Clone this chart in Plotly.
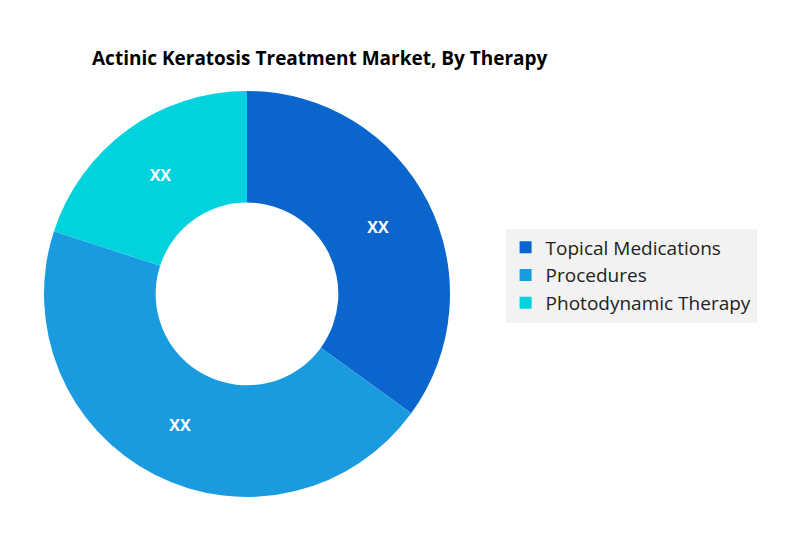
import plotly.graph_objects as go

labels = ["Topical Medications", "Procedures", "Photodynamic Therapy"]
values = [35, 45, 20]
colors = ["#0a66cc", "#1a9be0", "#00d2de"]

fig = go.Figure(go.Pie(
    labels=labels, values=values, hole=0.45, sort=False, direction="clockwise",
    rotation=0, marker=dict(colors=colors),
    texttemplate="<b>XX</b>", textposition="inside",
    textfont=dict(color="white", size=16, family="Open Sans"),
    insidetextorientation="horizontal",
    domain=dict(x=[0.045, 0.5525], y=[0.086, 0.845]),
))
fig.update_layout(
    width=800, height=535, margin=dict(l=0, r=0, t=0, b=0),
    paper_bgcolor="white",
    title=dict(text="<b>Actinic Keratosis Treatment Market, By Therapy</b>",
               x=0.105, xanchor="left", y=0.905, yanchor="middle",
               font=dict(family="Open Sans", size=19, color="black")),
    legend=dict(x=0.622, y=0.5, xanchor="left", yanchor="middle",
                bgcolor="#f2f2f2", font=dict(family="Open Sans", size=19, color="#222"),
                tracegroupgap=14, itemwidth=30),
)
fig.write_html("out.html")
